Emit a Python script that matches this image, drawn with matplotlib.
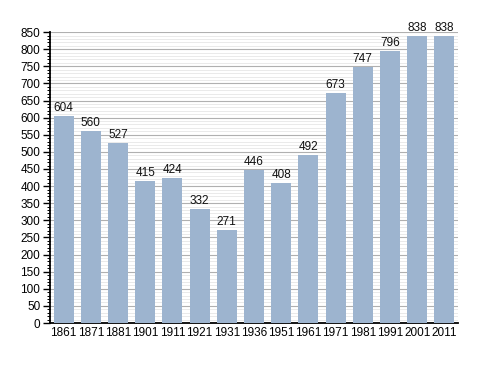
import matplotlib
matplotlib.use("Agg")
import matplotlib.pyplot as plt
from matplotlib.ticker import MultipleLocator

years = ["1861", "1871", "1881", "1901", "1911", "1921", "1931", "1936", "1951", "1961", "1971", "1981", "1991", "2001", "2011"]
population = [604, 560, 527, 415, 424, 332, 271, 446, 408, 492, 673, 747, 796, 838, 838]

plt.rcParams['font.family'] = ['Liberation Sans', 'DejaVu Sans']

fig = plt.figure(figsize=(4.88, 3.73), dpi=100)
ax = fig.add_axes([0.1025, 0.134, 0.836, 0.78])

x = list(range(len(years)))
bars = ax.bar(x, population, width=0.74, color="#9db4cf", zorder=3)
for xi, v in zip(x, population):
    ax.text(xi, v + 6, str(v), ha="center", va="bottom", fontsize=8.5, color="#111111", zorder=4)

ax.set_xlim(-0.5, len(years) - 0.5)
ax.set_ylim(0, 850)
ax.yaxis.set_major_locator(MultipleLocator(50))
ax.yaxis.set_minor_locator(MultipleLocator(10))
ax.grid(axis="y", which="major", color="#b0b0b0", linewidth=0.8, zorder=0)
ax.grid(axis="y", which="minor", color="#e6e6e6", linewidth=0.6, zorder=0)
ax.set_xticks(x)
ax.set_xticklabels(years)
ax.tick_params(axis="x", length=0, labelsize=8.5, pad=3)
ax.tick_params(axis="y", which="major", length=5, width=1, labelsize=8.5, pad=2, direction="out")
ax.tick_params(axis="y", which="minor", length=2.5, width=0.7, direction="out")
for s in ["top", "right"]:
    ax.spines[s].set_visible(False)
ax.spines["left"].set_linewidth(1.3)
ax.spines["bottom"].set_linewidth(1.3)

fig.savefig("out.png", dpi=100)
